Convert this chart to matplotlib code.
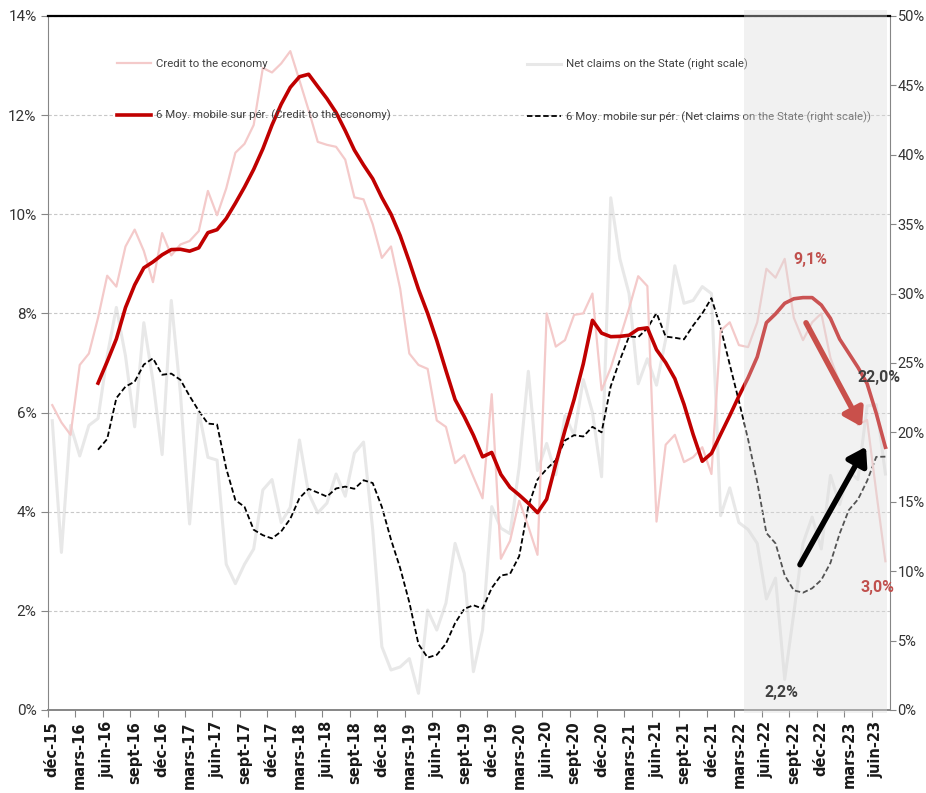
import numpy as np
import pandas as pd
import matplotlib
matplotlib.use("Agg")
import matplotlib.pyplot as plt
from matplotlib.patches import Rectangle
from matplotlib.transforms import blended_transform_factory

# Monthly data, déc-15 .. juil-23 (92 months)
credit = [
    6.15, 5.80, 5.55, 6.96, 7.19, 7.91, 8.76, 8.54, 9.35, 9.69,
    9.26, 8.63, 9.62, 9.17, 9.39, 9.46, 9.66, 10.47, 9.98, 10.52,
    11.24, 11.42, 11.80, 12.95, 12.86, 13.04, 13.29, 12.70, 12.10, 11.46,
    11.40, 11.36, 11.10, 10.34, 10.30, 9.80, 9.12, 9.35, 8.50, 7.19,
    6.96, 6.88, 5.84, 5.71, 4.98, 5.14, 4.70, 4.27, 6.37, 3.05,
    3.41, 4.22, 3.70, 3.13, 8.00, 7.33, 7.46, 7.97, 8.00, 8.40,
    6.45, 6.90, 7.50, 8.10, 8.75, 8.55, 3.80, 5.35, 5.55, 5.00,
    5.10, 5.30, 4.76, 7.65, 7.82, 7.36, 7.32, 7.82, 8.90, 8.72,
    9.10, 7.91, 7.46, 7.82, 8.00, 7.10, 6.60, 6.20, 5.75, 5.85,
    4.40, 3.00]

net_claims = [
    20.84, 11.35, 20.5, 18.3, 20.5, 21.0, 25.5, 29.0, 25.5, 20.4,
    27.9, 23.7, 18.4, 29.5, 22.8, 13.4, 21.5, 18.2, 18.0, 10.5,
    9.1, 10.5, 11.6, 15.85, 16.6, 13.5, 14.6, 19.45, 15.6, 14.2,
    14.9, 17.0, 15.4, 18.5, 19.3, 13.0, 4.56, 2.88, 3.1, 3.7,
    1.2, 7.2, 5.76, 7.7, 12.0, 9.85, 2.76, 5.76, 14.65, 13.1,
    12.7, 17.5, 24.4, 17.25, 19.2, 16.95, 21.2, 19.8, 23.8, 21.45,
    16.8, 36.9, 32.5, 30.0, 23.5, 25.3, 23.4, 26.7, 32.0, 29.3,
    29.5, 30.5, 30.0, 14.0, 16.0, 13.5, 13.0, 12.0, 8.0, 9.5,
    2.2, 7.0, 12.0, 13.9, 11.6, 16.9, 14.8, 17.2, 16.6, 21.9,
    22.0, 17.0]

tick_labels = ['déc-15', 'mars-16', 'juin-16', 'sept-16', 'déc-16', 'mars-17',
               'juin-17', 'sept-17', 'déc-17', 'mars-18', 'juin-18', 'sept-18',
               'déc-18', 'mars-19', 'juin-19', 'sept-19', 'déc-19', 'mars-20',
               'juin-20', 'sept-20', 'déc-20', 'mars-21', 'juin-21', 'sept-21',
               'déc-21', 'mars-22', 'juin-22', 'sept-22', 'déc-22', 'mars-23',
               'juin-23']

# 6-period moving averages, as in the original trendlines
credit_ma = pd.Series(credit).rolling(6).mean()
claims_ma = pd.Series(net_claims).rolling(6).mean()
x = np.arange(len(credit))

narrow = ['Roboto', 'DejaVu Sans']

fig = plt.figure(figsize=(9.26, 7.93), dpi=100)
ax = fig.add_axes([0.0515, 0.1047, 0.9096, 0.8752])
ax2 = ax.twinx()

# left axes on top of the right one
ax.set_zorder(ax2.get_zorder() + 1)
ax.patch.set_visible(False)
ax2.patch.set_visible(True)
ax2.patch.set_facecolor('white')

l1, = ax.plot(x, credit, color='#f4caca', lw=1.6, zorder=2,
              label='Credit to the economy')
l2, = ax.plot(x, credit_ma, color='#c00000', lw=2.6, zorder=3,
              label='6 Moy. mobile sur pér. (Credit to the economy)')
l3, = ax2.plot(x, net_claims, color='#e8e8e8', lw=2.2, zorder=2,
               label='Net claims on the State (right scale)')
l4, = ax2.plot(x, claims_ma, color='black', lw=1.3, ls=(0, (3, 1.5)), zorder=3,
               label='6 Moy. mobile sur pér. (Net claims on the State (right scale))')

ax.set_xlim(-0.5, 91.5)
ax.set_ylim(0, 14)
ax2.set_ylim(0, 50)

ax.set_yticks(np.arange(0, 15, 2))
ax.set_yticklabels([f'{v}%' for v in range(0, 15, 2)])
ax2.set_yticks(np.arange(0, 51, 5))
ax2.set_yticklabels([f'{v}%' for v in range(0, 51, 5)])

ax.set_xticks(np.arange(-0.5, 92, 3))
ax.set_xticklabels([])
ax.set_xticks(np.arange(0, 91, 3), minor=True)
ax.set_xticklabels(tick_labels, minor=True, rotation=90, fontweight='bold',
                   fontsize=10.5, color='#1a1a1a')
ax.tick_params(axis='x', which='major', length=5, color='#868686', direction='out')
ax.tick_params(axis='x', which='minor', length=0, pad=8)
ax.tick_params(axis='y', length=5, pad=3, color='#868686', labelsize=11,
               labelcolor='#333333')
ax2.tick_params(axis='y', length=4, pad=1.5, color='#868686', labelsize=10.5,
                labelcolor='#333333')
for lab in ax.get_yticklabels() + ax2.get_yticklabels():
    lab.set_family(narrow)

ax.grid(axis='y', color='#c8c8c8', ls=(0, (3, 2)), lw=0.8)
ax.set_axisbelow(True)

ax.spines['top'].set_color('black')
ax.spines['top'].set_linewidth(1.6)
ax.spines['right'].set_visible(False)
ax.spines['left'].set_color('#868686')
ax.spines['bottom'].set_color('#868686')
ax.spines['bottom'].set_linewidth(1.4)
for s in ['top', 'left', 'bottom']:
    ax2.spines[s].set_visible(False)
ax2.spines['right'].set_color('#868686')

leg_font = dict(family=narrow, size=8.2)
leg1 = ax.legend(handles=[l1, l2], loc='upper left', bbox_to_anchor=(0.1264, 0.926),
                 bbox_transform=fig.transFigure, frameon=False, prop=leg_font,
                 handlelength=3.0, handletextpad=0.4, labelspacing=3.6,
                 borderpad=0, borderaxespad=0)
for t in leg1.get_texts():
    t.set_color('#404040')
ax.add_artist(leg1)
leg2 = ax.legend(handles=[l3, l4], loc='upper left', bbox_to_anchor=(0.569, 0.926),
                 bbox_transform=fig.transFigure, frameon=False, prop=leg_font,
                 handlelength=3.0, handletextpad=0.4, labelspacing=3.6,
                 borderpad=0, borderaxespad=0)
for t in leg2.get_texts():
    t.set_color('#404040')

# shaded recent period, drawn over the lines
shade = Rectangle((75.6, -0.004), 91.2 - 75.6, 1.0126,
                  transform=blended_transform_factory(ax.transData, ax.transAxes),
                  facecolor='#dcdcdc', alpha=0.38, edgecolor='none',
                  zorder=10, clip_on=False)
ax.add_patch(shade)

lab_font = dict(family=narrow, fontsize=11.5, fontweight='bold',
                ha='center', va='center', zorder=12)
ax.text(82.8, 9.08, '9,1%', color='#c0504d', **lab_font)
ax.text(90.3, 6.70, '22,0%', color='#404040', **lab_font)
ax.text(90.1, 2.48, '3,0%', color='#c0504d', **lab_font)
ax.text(79.7, 0.36, '2,2%', color='#404040', **lab_font)

ax.annotate('', xy=(88.44, 5.71), xytext=(82.33, 7.81), zorder=12,
            arrowprops=dict(arrowstyle='-|>,head_length=0.7,head_width=0.45',
                            lw=4, color='#c9504b', mutation_scale=15,
                            shrinkA=0, shrinkB=0))
ax.annotate('', xy=(88.88, 5.31), xytext=(81.67, 2.93), zorder=12,
            arrowprops=dict(arrowstyle='-|>,head_length=0.7,head_width=0.45',
                            lw=4, color='black', mutation_scale=15,
                            shrinkA=0, shrinkB=0))

fig.savefig('out.png', dpi=100)
